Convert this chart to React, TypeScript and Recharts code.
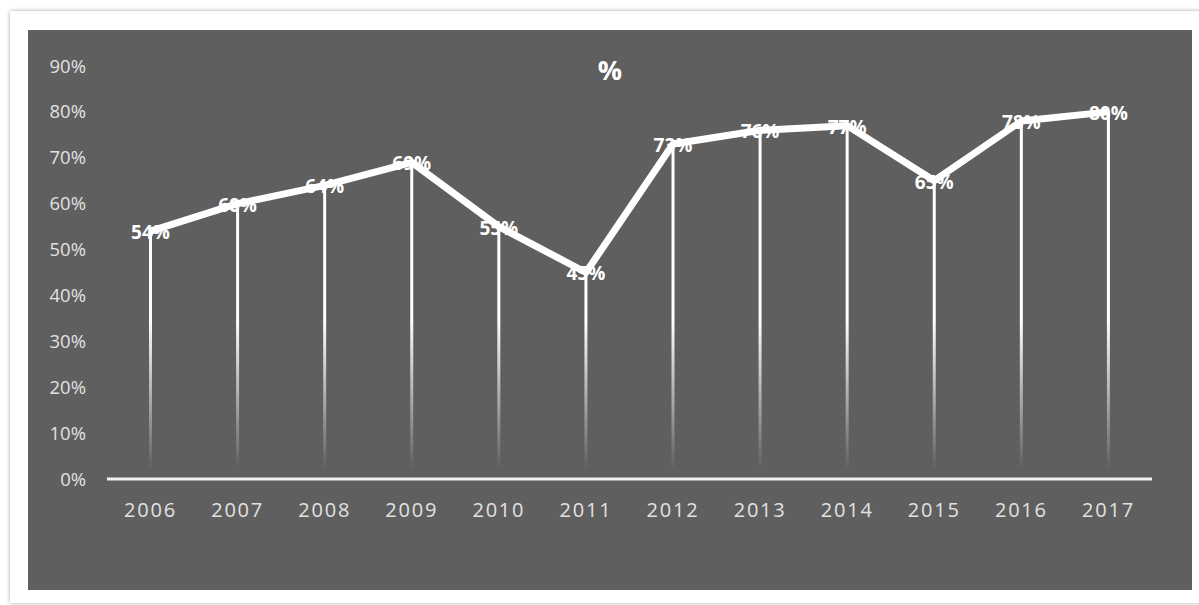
import {
  ComposedChart,
  Bar,
  Line,
  XAxis,
  YAxis,
  LabelList,
} from "recharts";

const years = [
  "2006", "2007", "2008", "2009", "2010", "2011",
  "2012", "2013", "2014", "2015", "2016", "2017",
];
const shares = [54, 60, 64, 69, 55, 45, 73, 76, 77, 65, 78, 80];
const yTicks = [0, 10, 20, 30, 40, 50, 60, 70, 80, 90];

const data = years.map((year, i) => ({ year, share: shares[i] }));

const FONT = "'Open Sans', sans-serif";

// value label centred on the top of each drop line, drawn under the line
const renderValueLabel = (props: any) => {
  const { x, y, width, value } = props;
  return (
    <text
      x={Number(x) + Number(width) / 2}
      y={Number(y)}
      dy="0.42em"
      textAnchor="middle"
      fill="#ffffff"
      fontFamily={FONT}
      fontWeight={700}
      fontSize={19}
    >
      {`${value}%`}
    </text>
  );
};

export default function App() {
  return (
    <div
      style={{
        position: "absolute",
        left: 0,
        top: 0,
        width: 1199,
        height: 605,
        overflow: "hidden",
        background: "#ffffff",
      }}
    >
      <div
        style={{
          position: "absolute",
          left: 10,
          top: 11,
          width: 1210,
          height: 592,
          background: "#ffffff",
          boxShadow: "0 0 4px rgba(0,0,0,0.35)",
        }}
      />
      <div
        style={{
          position: "absolute",
          left: 28,
          top: 30,
          width: 1164,
          height: 560,
          background: "#5f5f5f",
        }}
      >
        <div
          style={{
            position: "absolute",
            left: 0,
            width: 1164,
            top: 22,
            textAlign: "center",
            color: "#ffffff",
            fontFamily: FONT,
            fontWeight: 700,
            fontSize: 27,
            lineHeight: "36px",
          }}
        >
          %
        </div>
        <ComposedChart
          width={1164}
          height={560}
          data={data}
          margin={{ top: 36, right: 40, left: 0, bottom: 60 }}
        >
          <defs>
            <linearGradient
              id="dropFade"
              gradientUnits="userSpaceOnUse"
              x1="0"
              y1="290"
              x2="0"
              y2="440"
            >
              <stop offset="0%" stopColor="#ffffff" stopOpacity={1} />
              <stop offset="100%" stopColor="#ffffff" stopOpacity={0} />
            </linearGradient>
          </defs>
          <XAxis
            dataKey="year"
            height={51}
            axisLine={{ stroke: "#f2f2f2", strokeWidth: 3 }}
            tickLine={false}
            tickMargin={18}
            tick={{
              fill: "#e2e2e2",
              fontFamily: FONT,
              fontSize: 20,
              fontWeight: 500,
              letterSpacing: 1.8,
            }}
          />
          <YAxis
            width={79}
            domain={[0, 90]}
            ticks={yTicks}
            axisLine={false}
            tickLine={false}
            tickMargin={15}
            tickFormatter={(v) => `${v}%`}
            tick={{ fill: "#e2e2e2", fontFamily: FONT, fontSize: 18.5 }}
          />
          <Bar
            dataKey="share"
            barSize={3}
            fill="url(#dropFade)"
            isAnimationActive={false}
          >
            <LabelList dataKey="share" content={renderValueLabel} />
          </Bar>
          <Line
            type="linear"
            dataKey="share"
            stroke="#ffffff"
            strokeWidth={7}
            strokeLinejoin="round"
            dot={false}
            activeDot={false}
            isAnimationActive={false}
          />
        </ComposedChart>
      </div>
    </div>
  );
}
